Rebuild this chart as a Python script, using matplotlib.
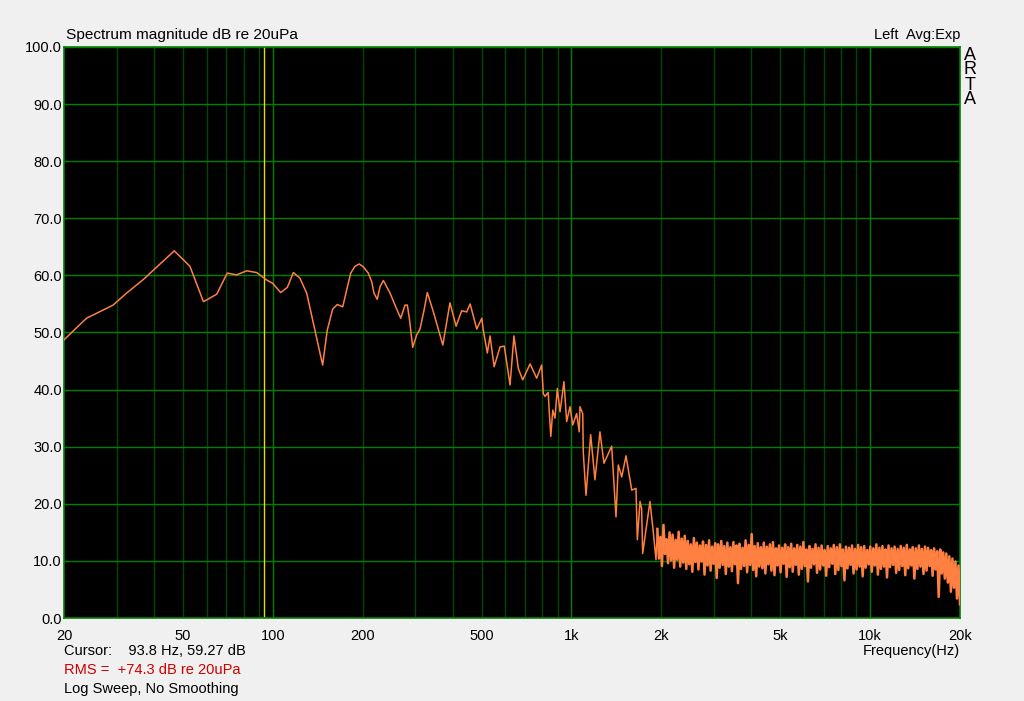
import numpy as np
import matplotlib
matplotlib.use("Agg")
import matplotlib.pyplot as plt
from matplotlib.ticker import FixedLocator, NullFormatter

plt.rcParams['font.family'] = ['Liberation Sans', 'DejaVu Sans']

# smooth low/mid part of the spectrum (Hz, dB)
freq_lm = [20, 21.8, 23.8, 29.2, 32.4, 36.9, 39.8, 46.8, 52.8, 58.6,
           64.9, 70.4, 75.7, 81.8, 88.3, 95.4, 100, 106.3, 111.9, 117.2,
           123.3, 129.9, 146.9, 152.2, 158.7, 164.5, 171.5, 176.9, 182.4, 188.5,
           194.9, 201, 208.8, 214.4, 218.2, 223.8, 228.6, 234.6, 247, 260,
           268.2, 277.2, 282.2, 286.6, 294.2, 303.4, 311.2, 321, 329.2, 345,
           371, 392, 411, 429, 446, 458, 482, 501, 507, 523,
           534, 551, 577, 596, 623, 642, 664, 687, 727, 765,
           795, 805, 816, 836, 843, 853, 866, 881, 897, 916,
           944, 964, 989, 1010, 1041, 1062, 1068, 1091, 1096, 1119,
           1160, 1199, 1246, 1285, 1364, 1410, 1435, 1474, 1523, 1592,
           1645, 1662, 1697, 1718, 1732, 1832, 1876, 1919]
db_lm = [48.7, 50.6, 52.5, 54.8, 56.9, 59.3, 60.9, 64.3, 61.6, 55.4,
         56.7, 60.4, 60.1, 60.8, 60.5, 59.2, 58.6, 57.0, 57.9, 60.5,
         59.5, 56.9, 44.3, 50.4, 54.1, 54.9, 54.5, 57.5, 60.4, 61.6,
         62.0, 61.5, 60.4, 58.9, 56.9, 55.8, 58.0, 59.1, 56.9, 54.1,
         52.5, 54.8, 54.8, 52.5, 47.4, 49.6, 50.6, 53.9, 57.0, 53.6,
         47.8, 55.2, 51.1, 53.8, 53.6, 55.0, 50.6, 52.5, 50.4, 46.4,
         49.4, 44.0, 47.5, 47.6, 40.8, 49.4, 43.7, 41.7, 44.5, 42.0,
         44.3, 39.3, 38.8, 39.5, 36.1, 31.8, 36.4, 35.0, 40.2, 36.1,
         41.4, 34.4, 37.0, 33.8, 35.8, 32.6, 37.0, 35.8, 28.9, 21.5,
         32.1, 24.2, 32.6, 27.1, 30.1, 17.7, 26.8, 24.7, 28.4, 22.4,
         22.7, 13.7, 20.4, 19.2, 11.3, 20.4, 15.5, 10.2]

# noisy high frequency part, 1.94 kHz .. 20 kHz
db_hf = [15.6, 10.4, 14.2, 9.1, 16.3, 11.2, 13.8, 9.6, 15.0, 10.1,
         14.6, 8.8, 13.7, 10.2, 15.1, 9.0, 13.9, 9.7, 14.4, 8.6,
         13.5, 9.4, 12.9, 8.1, 14.0, 9.8, 13.2, 8.5, 12.7, 9.9,
         13.4, 7.6, 12.8, 9.2, 13.6, 8.3, 12.5, 9.5, 13.1, 7.0,
         12.9, 8.8, 13.5, 9.3, 12.6, 7.7, 13.2, 9.0, 12.4, 8.2,
         13.3, 9.4, 12.7, 6.1, 13.0, 8.6, 12.3, 9.1, 13.6, 8.0,
         12.8, 9.3, 14.7, 8.4, 12.6, 7.3, 13.1, 9.0, 12.4, 8.7,
         13.2, 7.8, 12.5, 9.4, 12.9, 8.3, 13.3, 7.5, 12.2, 9.2,
         12.7, 8.0, 12.3, 9.5, 12.9, 7.2, 12.4, 8.9, 13.0, 8.1,
         12.2, 9.3, 12.8, 7.6, 12.5, 8.6, 13.3, 9.1, 12.0, 6.4,
         12.6, 8.8, 12.1, 9.4, 12.9, 7.9, 12.3, 8.5, 12.7, 9.2,
         11.9, 7.4, 12.6, 8.9, 12.2, 9.5, 12.8, 7.7, 12.4, 8.4,
         12.9, 9.1, 12.0, 6.6, 12.5, 8.7, 12.3, 9.3, 12.7, 7.8,
         12.1, 8.5, 12.8, 9.0, 12.4, 7.3, 12.6, 8.8, 11.9, 9.4,
         12.5, 8.1, 12.2, 9.2, 12.9, 7.6, 12.3, 8.6, 12.6, 9.0,
         12.0, 7.1, 12.7, 8.9, 12.2, 9.3, 12.5, 7.9, 12.1, 8.4,
         12.6, 9.1, 12.3, 7.5, 12.8, 8.7, 12.0, 9.2, 12.4, 6.9,
         12.2, 8.6, 12.7, 9.0, 12.1, 7.7, 12.5, 8.3, 12.3, 9.1,
         11.9, 7.4, 12.2, 8.5, 11.7, 3.7, 12.0, 7.8, 11.5, 6.9,
         11.3, 6.2, 10.8, 4.6, 10.4, 5.3, 9.9, 3.4, 9.2, 2.4]
freq_hf = np.geomspace(1940, 20000, len(db_hf))

cursor_f = 93.8
major_x = [100, 1000, 10000]
minor_x = [30, 40, 50, 60, 70, 80, 90, 200, 300, 400, 500, 600, 700, 800, 900,
           2000, 3000, 4000, 5000, 6000, 7000, 8000, 9000]
xtick_vals = [20, 50, 100, 200, 500, 1000, 2000, 5000, 10000, 20000]
xtick_labels = ['20', '50', '100', '200', '500', '1k', '2k', '5k', '10k', '20k']
ytick_vals = np.arange(0, 101, 10)

fig = plt.figure(figsize=(10.24, 7.01), dpi=100, facecolor='#F0F0F0')
ax = fig.add_axes([64 / 1024, 83 / 701, 896 / 1024, 571 / 701])
ax.set_facecolor('black')
ax.set_xscale('log')
ax.set_xlim(20, 20000)
ax.set_ylim(0, 100)

for f in minor_x:
    ax.axvline(f, color='#004800', lw=1, zorder=1)
for f in major_x:
    ax.axvline(f, color='#008000', lw=1, zorder=1)
for v in ytick_vals:
    ax.axhline(v, color='#008000', lw=1, zorder=1)

ax.axvline(cursor_f, color='#E0E000', lw=1, zorder=2)
ax.plot(freq_lm + [freq_hf[0]], db_lm + [db_hf[0]], color='#FF8040', lw=1.1, zorder=3)
ax.plot(freq_hf, db_hf, color='#FF8040', lw=1.8, zorder=3)

ax.xaxis.set_major_locator(FixedLocator(xtick_vals))
ax.set_xticklabels(xtick_labels)
ax.xaxis.set_minor_formatter(NullFormatter())
ax.xaxis.set_minor_locator(FixedLocator([]))
ax.set_yticks(ytick_vals)
ax.set_yticklabels(['%.1f' % v for v in ytick_vals])
ax.tick_params(axis='both', length=0, labelsize=10.5, colors='black')
ax.tick_params(axis='x', pad=8)
ax.tick_params(axis='y', pad=1.5)
for s in ax.spines.values():
    s.set_color('#008000')
    s.set_linewidth(1.2)

fs = 10.5
fig.text(66 / 1024, 1 - 35 / 701, 'Spectrum magnitude dB re 20uPa', fontsize=11.1, va='center', ha='left')
fig.text(960 / 1024, 1 - 35 / 701, 'Left  Avg:Exp', fontsize=fs, va='center', ha='right')
for i, ch in enumerate('ARTA'):
    fig.text(970 / 1024, 1 - (55 + 15 * i) / 701, ch, fontsize=13, va='center', ha='center')
fig.text(64 / 1024, 1 - 651 / 701, 'Cursor:    93.8 Hz, 59.27 dB', fontsize=fs, va='center', ha='left')
fig.text(64 / 1024, 1 - 670 / 701, 'RMS =  +74.3 dB re 20uPa', fontsize=fs, va='center', ha='left', color='#CC0000')
fig.text(64 / 1024, 1 - 689 / 701, 'Log Sweep, No Smoothing', fontsize=fs, va='center', ha='left')
fig.text(960 / 1024, 1 - 651 / 701, 'Frequency(Hz)', fontsize=fs, va='center', ha='right')

fig.savefig('out.png', dpi=100, facecolor=fig.get_facecolor())
